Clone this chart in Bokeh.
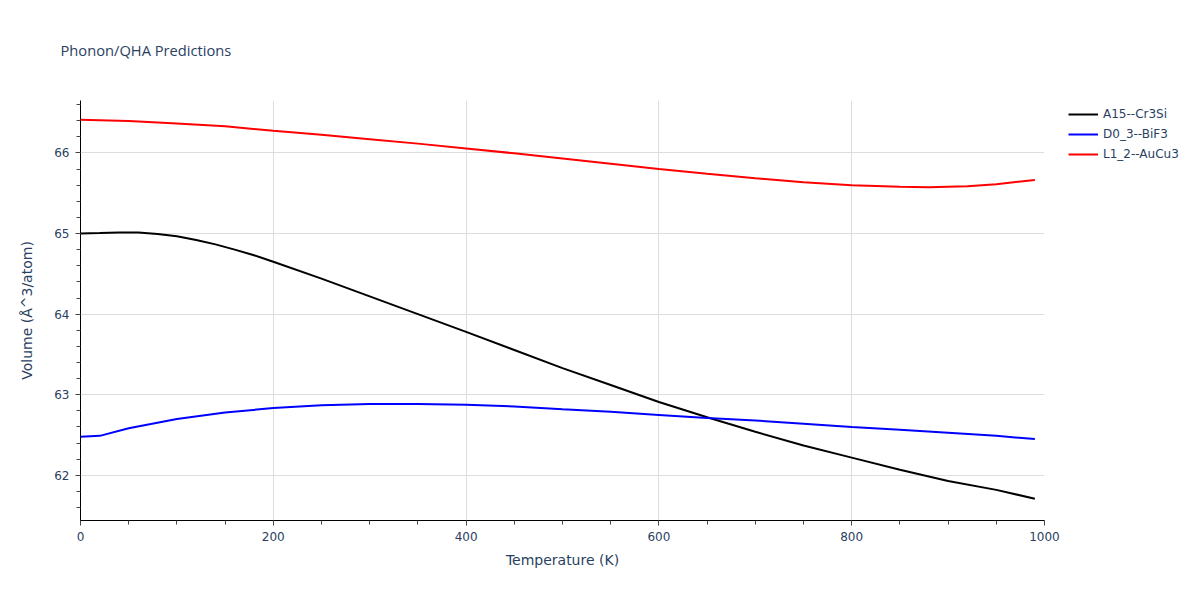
from bokeh.plotting import figure
from bokeh.models import Range1d, SingleIntervalTicker, Legend, LegendItem
from bokeh.embed import file_html
from bokeh.resources import INLINE

# Data
a15_T = [0, 20, 40, 60, 80, 100, 120, 140, 160, 180, 200, 250, 300, 350, 400,
         450, 500, 550, 600, 650, 700, 750, 800, 850, 900, 950, 990]
a15_V = [65.00, 65.005, 65.013, 65.013, 64.995, 64.965, 64.92, 64.865, 64.80, 64.73,
         64.65, 64.44, 64.22, 64.00, 63.78, 63.555, 63.33, 63.12, 62.91, 62.72,
         62.54, 62.37, 62.22, 62.07, 61.93, 61.82, 61.71]

d03_T = [0, 20, 50, 100, 150, 200, 250, 300, 350, 400, 450, 500, 550, 600, 650,
         700, 750, 800, 850, 900, 950, 990]
d03_V = [62.48, 62.49, 62.585, 62.70, 62.78, 62.835, 62.87, 62.885, 62.885, 62.875,
         62.855, 62.82, 62.79, 62.75, 62.71, 62.68, 62.64, 62.60, 62.565, 62.53,
         62.49, 62.45]

l12_T = [0, 50, 100, 150, 200, 250, 300, 350, 400, 450, 500, 550, 600, 650, 700,
         750, 800, 850, 880, 920, 950, 990]
l12_V = [66.41, 66.395, 66.365, 66.33, 66.275, 66.225, 66.17, 66.115, 66.055, 65.995,
         65.93, 65.865, 65.80, 65.74, 65.685, 65.635, 65.60, 65.58, 65.575, 65.585,
         65.61, 65.665]

series_names = ["A15--Cr3Si", "D0_3--BiF3", "L1_2--AuCu3"]
series_colors = ["black", "blue", "red"]

title_text = "Phonon/QHA Predictions"
x_label = "Temperature (K)"
y_label = "Volume (Å^3/atom)"

FONT = "DejaVu Sans"
TFONT = "Open Sans"
TXT = "#2a3f5f"

p = figure(frame_width=964, frame_height=420, output_backend="svg", toolbar_location=None,
           x_range=Range1d(0, 1000), y_range=Range1d(61.44, 66.65),
           min_border_left=80, min_border_right=140, min_border_top=100,
           min_border_bottom=64)
p.background_fill_color = "white"
p.border_fill_color = "white"
p.outline_line_color = None

p.title.text = title_text
p.title.align = "left"
p.title.vertical_align = "top"
p.title.offset = -20
p.title.standoff = 78
p.title.text_font = TFONT
p.title.text_font_size = "14.7px"
p.title.text_font_style = "normal"
p.title.text_color = TXT

p.xaxis.ticker = SingleIntervalTicker(interval=200, num_minor_ticks=4)
p.yaxis.ticker = SingleIntervalTicker(interval=1, num_minor_ticks=5)

for ax in (p.xaxis, p.yaxis):
    ax.axis_line_color = "black"
    ax.axis_line_width = 1
    ax.major_tick_line_color = "#444444"
    ax.minor_tick_line_color = "#444444"
    ax.major_tick_in = 0
    ax.major_tick_out = 5
    ax.minor_tick_in = 0
    ax.minor_tick_out = 4
    ax.major_label_text_font = FONT
    ax.major_label_text_font_size = "12px"
    ax.major_label_text_color = TXT
    ax.axis_label_text_font = FONT
    ax.axis_label_text_font_size = "14px"
    ax.axis_label_text_font_style = "normal"
    ax.axis_label_text_color = TXT

p.xaxis.axis_label = x_label
p.yaxis.axis_label = y_label
p.xaxis.major_label_standoff = 6
p.yaxis.major_label_standoff = 6
p.xaxis.axis_label_standoff = 8
p.yaxis.axis_label_standoff = 16

p.xgrid.grid_line_color = "#dddddd"
p.ygrid.grid_line_color = "#dddddd"
p.xgrid.grid_line_width = 1
p.ygrid.grid_line_width = 1

renderers = []
for T, V, c in ((a15_T, a15_V, series_colors[0]), (d03_T, d03_V, series_colors[1]),
                (l12_T, l12_V, series_colors[2])):
    r = p.line(T, V, line_color=c, line_width=2)
    renderers.append(r)

legend = Legend(items=[LegendItem(label=n, renderers=[r]) for n, r in zip(series_names, renderers)],
                location=(24, 356), orientation="vertical")
legend.border_line_color = None
legend.background_fill_alpha = 0
legend.padding = 0
legend.margin = 0
legend.spacing = 0
legend.glyph_width = 30
legend.glyph_height = 20
legend.label_height = 20
legend.label_standoff = 5
legend.label_text_font = FONT
legend.label_text_font_size = "12px"
legend.label_text_color = TXT
p.add_layout(legend, "right")

open("out.html", "w").write(file_html(p, INLINE))
